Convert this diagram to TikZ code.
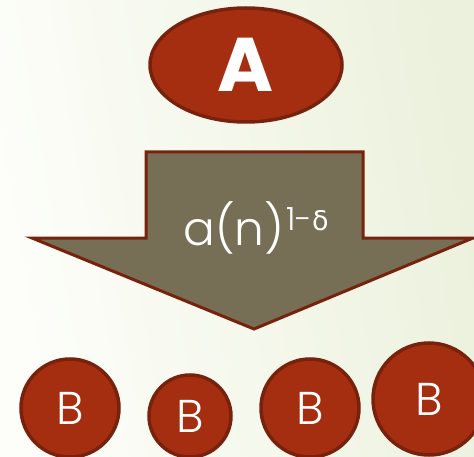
\documentclass[tikz,border=0pt]{standalone}
\usepackage{fontspec}
\setmainfont{Poppins}
\newfontfamily\lightfont{Poppins Light}
\newfontfamily\greekfont{DejaVu Sans}
\usetikzlibrary{shapes.geometric}
\definecolor{blobred}{RGB}{165,46,16}
\definecolor{blobedge}{RGB}{120,34,14}
\definecolor{arrowfill}{RGB}{118,111,85}
\definecolor{bgleft}{RGB}{253,254,250}
\definecolor{bgright}{RGB}{236,241,221}
\tikzset{
  % red filled blobs with a darker rim
  redblob/.style={fill=blobred, draw=blobedge, line width=3.5pt, text=white,
    inner sep=0pt},
  bigell/.style={redblob, ellipse, minimum width=192pt, minimum height=114pt,
    font=\fontsize{76}{76}\selectfont\bfseries},
  ball/.style={redblob, circle, font=\fontsize{46}{46}\selectfont\lightfont},
  % the big down arrow
  downarrow/.style={fill=arrowfill, draw=blobedge, line width=3pt,
    line join=miter},
}
\begin{document}
\begin{tikzpicture}[x=1pt, y=1pt]
  % background
  \shade[left color=bgleft, right color=bgright, shading angle=100]
    (0,0) rectangle (474,456);
  \useasboundingbox (0,0) rectangle (474,456);
  % top set
  \node[bigell] (A) at (246,391) {A};
  % arrow
  \draw[downarrow] (146,304) -- (363,304) -- (363,218) -- (473,218)
    -- (254,127) -- (32,218) -- (146,218) -- cycle;
  \node[text=white, font=\fontsize{47}{47}\selectfont\lightfont, inner sep=0pt]
    (rate) at (256,228)
    {a(n)\kern2pt\raisebox{15pt}{\fontsize{32}{32}\selectfont 1-{\greekfont\fontsize{27}{27}\selectfont δ}}};
  % bottom sets
  \node[ball, minimum size=98pt] (b1) at (70,48) {B};
  \node[ball, minimum size=82pt] (b2) at (190,40) {B};
  \node[ball, minimum size=98pt] (b3) at (310,48) {B};
  \node[ball, minimum size=112pt] (b4) at (429,57) {B};
\end{tikzpicture}
\end{document}
